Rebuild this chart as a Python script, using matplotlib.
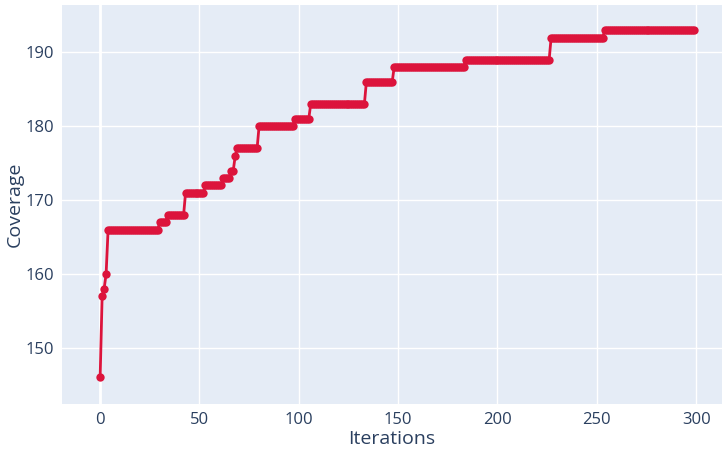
import numpy as np
import matplotlib.pyplot as plt

# 每一段的起始迭代和对应的覆盖值
step_starts = [0, 1, 2, 3, 4, 30, 34, 43, 53, 62, 66, 68, 69, 80, 98, 106, 134, 148, 184, 227, 254]
step_values = [146, 157, 158, 160, 166, 167, 168, 171, 172, 173, 174, 176, 177, 180, 181, 183, 186, 188, 189, 192, 193]
n_iter = 300

iterations = np.arange(n_iter)
coverage = np.zeros(n_iter)
for i, s in enumerate(step_starts):
    e = step_starts[i + 1] if i + 1 < len(step_starts) else n_iter
    coverage[s:e] = step_values[i]

x_ticks = [0, 50, 100, 150, 200, 250, 300]
y_ticks = [150, 160, 170, 180, 190]

plt.rcParams['font.family'] = ['Open Sans', 'DejaVu Sans']
text_color = '#2a3f5f'

fig = plt.figure(figsize=(7.22, 4.51), dpi=100)
ax = fig.add_axes([62 / 722, 47 / 451, 660 / 722, 399 / 451])
ax.set_facecolor('#E5ECF6')

ax.plot(iterations, coverage, color='#DC143C', linewidth=2, marker='o',
        markersize=6, markeredgewidth=0, zorder=3)

ax.set_xlim(-19.2, 313)
ax.set_ylim(142.4, 196.4)
ax.set_xticks(x_ticks)
ax.set_yticks(y_ticks)
ax.grid(True, color='white', linewidth=1)
ax.axvline(0, color='white', linewidth=2, zorder=1)
ax.set_axisbelow(True)
for sp in ax.spines.values():
    sp.set_visible(False)
ax.tick_params(length=0, labelsize=12, colors=text_color, pad=6)
ax.set_xlabel('Iterations', fontsize=14, color=text_color, labelpad=1)
ax.set_ylabel('Coverage', fontsize=14, color=text_color, labelpad=1)

fig.savefig('out.png', dpi=100)
